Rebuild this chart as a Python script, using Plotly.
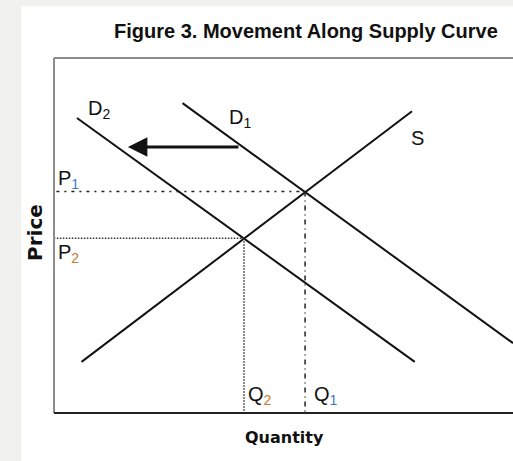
import plotly.graph_objects as go

# ---- data (quantity / price units, axes run 0..100) ----
supply_q = [6.0, 78.0]
supply_p = [14.4, 85.0]
d1_q = [28.0, 100.0]
d1_p = [87.3, 19.7]
d2_q = [5.0, 78.6]
d2_p = [83.1, 14.4]
eq_q = [54.7, 41.4]   # Q1, Q2
eq_p = [62.4, 49.2]   # P1, P2
shift_from = [40.5, 74.9]
shift_to = [16.1, 74.9]

W, H = 513, 461
X0, X1 = 54, 513
Y0, Y1 = 58, 413

fig = go.Figure()

black = "#111111"
fig.add_trace(go.Scatter(x=supply_q, y=supply_p, mode="lines",
                         line=dict(color=black, width=2), hoverinfo="skip"))
fig.add_trace(go.Scatter(x=d1_q, y=d1_p, mode="lines",
                         line=dict(color=black, width=2), hoverinfo="skip"))
fig.add_trace(go.Scatter(x=d2_q, y=d2_p, mode="lines",
                         line=dict(color=black, width=2), hoverinfo="skip"))

# guide lines
fig.add_trace(go.Scatter(x=[-1, eq_q[0]], y=[eq_p[0], eq_p[0]], mode="lines",
                         line=dict(color="#222", width=1.5, dash="2px,5px,3px,5px"),
                         hoverinfo="skip", cliponaxis=False))
fig.add_trace(go.Scatter(x=[eq_q[0], eq_q[0]], y=[eq_p[0], -1.5], mode="lines",
                         line=dict(color="#222", width=1.5, dash="5px,4px,1px,4px"),
                         hoverinfo="skip", cliponaxis=False))
fig.add_trace(go.Scatter(x=[-2, eq_q[1]], y=[eq_p[1], eq_p[1]], mode="lines",
                         line=dict(color="#333", width=1.5, dash="1.5px,1.5px"),
                         hoverinfo="skip", cliponaxis=False))
fig.add_trace(go.Scatter(x=[eq_q[1], eq_q[1]], y=[eq_p[1], -1], mode="lines",
                         line=dict(color="#333", width=1.5, dash="1.5px,1.5px"),
                         hoverinfo="skip", cliponaxis=False))

# frame
fig.add_shape(type="rect", xref="paper", yref="paper", x0=21 / W, x1=1, y0=0, y1=1 - 6 / H,
              fillcolor="white", line=dict(width=0), layer="below")
fig.add_shape(type="line", xref="x domain", yref="y domain", x0=0, x1=1, y0=1, y1=1,
              line=dict(color="#8c8c8c", width=2))
fig.add_shape(type="line", xref="x domain", yref="y domain", x0=0, x1=0, y0=0, y1=1,
              line=dict(color="#8c8c8c", width=2))
fig.add_shape(type="line", xref="x domain", yref="y domain", x0=0, x1=1, y0=0, y1=0,
              line=dict(color="#222222", width=2))

# shift arrow
fig.add_annotation(x=shift_to[0], y=shift_to[1], ax=shift_from[0], ay=shift_from[1],
                   xref="x", yref="y", axref="x", ayref="y", text="", showarrow=True,
                   arrowhead=2, arrowsize=1.3, arrowwidth=3, arrowcolor=black)

lab = dict(family="Liberation Sans, Arial, sans-serif", size=20, color=black)
blue = "#3c78c0"
orange = "#c8782e"
labels = [
    ("D<sub>2</sub>", 9.8, 85.6, "center"),
    ("D<sub>1</sub>", 40.5, 83.1, "center"),
    ("S", 79.3, 77.5, "center"),
    (f"P<sub><span style='color:{blue}'>1</span></sub>", 0.5, 65.8, "left"),
    (f"P<sub><span style='color:{orange}'>2</span></sub>", 0.5, 45.0, "left"),
    (f"Q<sub><span style='color:{orange}'>2</span></sub>", 41.8, 4.8, "left"),
    (f"Q<sub><span style='color:{blue}'>1</span></sub>", 56.1, 4.8, "left"),
]
for t, x, y, xa in labels:
    fig.add_annotation(x=x, y=y, xref="x", yref="y", text=t, showarrow=False,
                       xanchor=xa, yanchor="middle", font=lab)

fig.add_annotation(x=306 / W, y=1 - 31 / H, xref="paper", yref="paper",
                   text="<b>Figure 3. Movement Along Supply Curve</b>", showarrow=False,
                   xanchor="center", yanchor="middle",
                   font=dict(family="Liberation Sans, Arial", size=20, color="#111"))
fig.add_annotation(x=35 / W, y=1 - 233 / H, xref="paper", yref="paper",
                   text="<b>Price</b>", textangle=-90, showarrow=False,
                   xanchor="center", yanchor="middle",
                   font=dict(family="DejaVu Sans, Verdana", size=20, color="#111"))
fig.add_annotation(x=284 / W, y=1 - 437 / H, xref="paper", yref="paper",
                   text="<b>Quantity</b>", showarrow=False,
                   xanchor="center", yanchor="middle",
                   font=dict(family="DejaVu Sans, Verdana", size=16, color="#111"))

fig.update_layout(
    width=W, height=H, margin=dict(l=0, r=0, t=0, b=0),
    paper_bgcolor="#f1f1ef", plot_bgcolor="white", showlegend=False,
    xaxis=dict(domain=[X0 / W, X1 / W], range=[0, 100], showgrid=False, zeroline=False,
               showticklabels=False, ticks="", fixedrange=True),
    yaxis=dict(domain=[1 - Y1 / H, 1 - Y0 / H], range=[0, 100], showgrid=False, zeroline=False,
               showticklabels=False, ticks="", fixedrange=True),
)

fig.write_html("out.html", config={"displayModeBar": False},
               post_script="document.body.style.margin='0';document.body.style.padding='0';")
